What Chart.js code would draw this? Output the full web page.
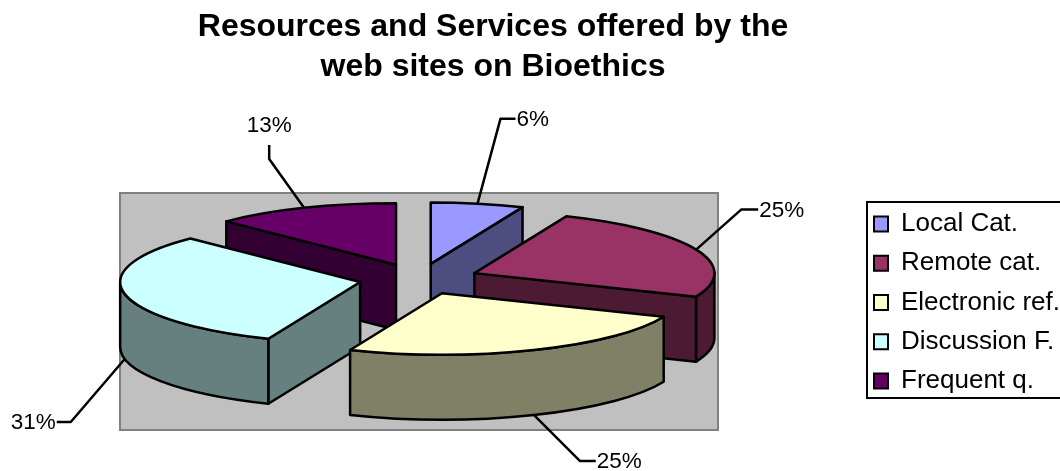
<!DOCTYPE html>
<html><head><meta charset="utf-8">
<style>html,body{margin:0;padding:0;background:#fff}#w{width:1060px;height:471px;position:relative}</style>
<script src="https://cdn.jsdelivr.net/npm/chart.js@4/dist/chart.umd.js"></script>
</head><body><div id="w"><canvas id="c" width="1060" height="471"></canvas></div>
<script>
const titleLines = ['Resources and Services offered by the', 'web sites on Bioethics'];
const categories = ['Local Cat.', 'Remote cat.', 'Electronic ref.', 'Discussion F.', 'Frequent q.'];
const values = [1, 4, 4, 5, 2];
const topColors = ['#9999FF', '#993366', '#FFFFCC', '#CCFFFF', '#660066'];
const sideColors = ['#4D4D80', '#4D1A33', '#808066', '#668080', '#330033'];
// leader-line routing relative to each slice's rim point: elbow and label anchor offsets
const leaderElbow = [[23, -85], [45, -40], [46, 46], [-54, 63], [-35, -49]];
const leaderEnd = [[38, -85], [62, -40], [62, 46], [-68, 63], [-35, -63]];

const DEPTH = 65, SQUASH = 0.256, RADIUS = 240, EXPLODE = 60;
const plotBox = {left: 120, top: 193, right: 718, bottom: 430};
const legendBox = {left: 867, top: 202, right: 1075, bottom: 398};
const FONT = '"Liberation Sans", Arial, sans-serif';

const pie3d = {
  id: 'pie3d',
  afterLayout(chart) {
    chart.chartArea = Object.assign({}, chart.chartArea, plotBox,
      {width: plotBox.right - plotBox.left, height: plotBox.bottom - plotBox.top});
    const t = chart.titleBlock; t.left = 0; t.right = 986; t.top = 0;
    const l = chart.legend;
    const h = l.height;
    l.left = 860.75; l.right = l.left + l.width; l.top = 197.75; l.bottom = l.top + h;
    l.adjustHitBoxes();
  },
  beforeDatasetsDraw(chart) {
    const ctx = chart.ctx;
    ctx.save();
    ctx.fillStyle = '#C0C0C0'; ctx.strokeStyle = '#808080'; ctx.lineWidth = 2;
    ctx.fillRect(plotBox.left, plotBox.top, plotBox.right - plotBox.left, plotBox.bottom - plotBox.top);
    ctx.strokeRect(plotBox.left, plotBox.top, plotBox.right - plotBox.left, plotBox.bottom - plotBox.top);
    ctx.strokeStyle = '#000';
    ctx.strokeRect(legendBox.left, legendBox.top, legendBox.right - legendBox.left, legendBox.bottom - legendBox.top);
    ctx.restore();

    const meta = chart.getDatasetMeta(0);
    const cx = meta.data[0].x, cy = meta.data[0].y - DEPTH / 2;
    const total = values.reduce((a, b) => a + b, 0);
    const slices = meta.data.map((arc, i) => {
      const mid = (arc.startAngle + arc.endAngle) / 2;
      return {arc, i, mid, ax: cx + Math.cos(mid) * EXPLODE, ay: cy + Math.sin(mid) * EXPLODE * SQUASH};
    }).sort((a, b) => a.ay - b.ay);

    const rim = (s, t) => [s.ax + Math.cos(t) * RADIUS, s.ay + Math.sin(t) * RADIUS * SQUASH];
    ctx.save();
    ctx.lineJoin = 'round';
    ctx.lineWidth = 2.5;
    ctx.strokeStyle = '#000';
    for (const s of slices) {
      const {arc, i} = s;
      const a = arc.startAngle, b = arc.endAngle;
      ctx.fillStyle = sideColors[i];
      const face = (t) => {
        const p = rim(s, t);
        ctx.beginPath();
        ctx.moveTo(s.ax, s.ay); ctx.lineTo(p[0], p[1]);
        ctx.lineTo(p[0], p[1] + DEPTH); ctx.lineTo(s.ax, s.ay + DEPTH);
        ctx.closePath(); ctx.fill(); ctx.stroke();
      };
      if (Math.cos(a) < -1e-6) face(a);
      if (Math.cos(b) > 1e-6) face(b);
      const w0 = Math.max(a, 0), w1 = Math.min(b, Math.PI);
      if (w1 > w0) {
        ctx.beginPath();
        ctx.ellipse(s.ax, s.ay, RADIUS, RADIUS * SQUASH, 0, w0, w1);
        ctx.ellipse(s.ax, s.ay + DEPTH, RADIUS, RADIUS * SQUASH, 0, w1, w0, true);
        ctx.closePath(); ctx.fill(); ctx.stroke();
      }
      // top face: the library's own arc, flattened and moved to its exploded position
      ctx.save();
      ctx.translate(s.ax, s.ay); ctx.scale(1, SQUASH); ctx.translate(-arc.x, -arc.y);
      arc.draw(ctx);
      ctx.restore();
      ctx.beginPath();
      ctx.moveTo(s.ax, s.ay);
      ctx.ellipse(s.ax, s.ay, RADIUS, RADIUS * SQUASH, 0, a, b);
      ctx.closePath(); ctx.stroke();
    }
    // leader lines and percentage labels
    ctx.fillStyle = '#000';
    ctx.font = '22.5px ' + FONT;
    ctx.textBaseline = 'middle';
    for (const s of slices) {
      const i = s.i;
      const onFront = Math.sin(s.mid) > 0;
      const p = rim(s, s.mid);
      const y0 = p[1] + (onFront ? DEPTH : 0);
      const e = leaderElbow[i], f = leaderEnd[i];
      ctx.beginPath();
      ctx.moveTo(p[0], y0);
      ctx.lineTo(p[0] + e[0], y0 + e[1]);
      ctx.lineTo(p[0] + f[0], y0 + f[1]);
      ctx.stroke();
      const label = Math.round(values[i] / total * 100) + '%';
      const lx = p[0] + f[0], ly = y0 + f[1];
      if (e[0] === f[0]) {
        ctx.textAlign = 'center'; ctx.fillText(label, lx, ly - 19);
      } else if (f[0] > e[0]) {
        ctx.textAlign = 'left'; ctx.fillText(label, lx + 1, ly + 1);
      } else {
        ctx.textAlign = 'right'; ctx.fillText(label, lx - 1, ly + 1);
      }
    }
    ctx.restore();
    return false;
  }
};

new Chart(document.getElementById('c'), {
  type: 'pie',
  data: {
    labels: categories,
    datasets: [{data: values, backgroundColor: topColors, borderWidth: 0}]
  },
  plugins: [pie3d],
  options: {
    responsive: false,
    animation: false,
    events: [],
    radius: RADIUS,
    layout: {padding: 0},
    plugins: {
      tooltip: {enabled: false},
      title: {display: true, text: titleLines, color: '#000',
        font: {family: FONT, size: 32, weight: 'bold', lineHeight: 1.25}, padding: {top: 7, bottom: 0}},
      legend: {position: 'right', align: 'start',
        labels: {color: '#000', font: {family: FONT, size: 26}, boxWidth: 14, boxHeight: 15, padding: 13.25,
          generateLabels: c => Chart.overrides.pie.plugins.legend.labels.generateLabels(c)
            .map(l => Object.assign(l, {strokeStyle: '#000', lineWidth: 2}))}}
    }
  }
});
</script></body></html>
